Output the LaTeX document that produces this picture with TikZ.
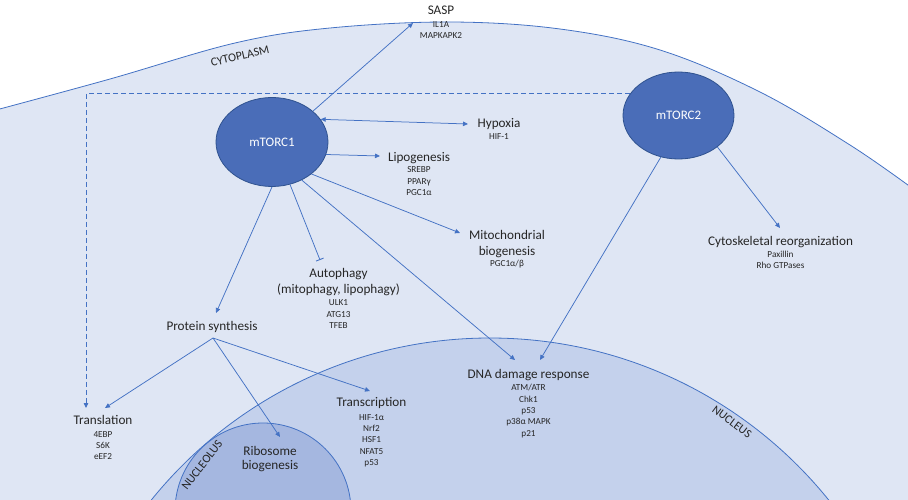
\documentclass[tikz,border=0pt]{standalone}
\usepackage{fontspec}
\setmainfont{Carlito}
\usetikzlibrary{arrows.meta,shapes.geometric}

\definecolor{cytofill}{HTML}{DFE6F4}
\definecolor{nucfill}{HTML}{C4D1EC}
\definecolor{nucolfill}{HTML}{A5B7E0}
\definecolor{edge}{HTML}{4472C4}
\definecolor{mtorfill}{HTML}{4A6DB8}
\definecolor{mtorline}{HTML}{2F528F}
\definecolor{ink}{HTML}{262626}

% multi-line nodes are placed by the baseline of their last line
\tikzset{
  membrane/.style={draw=edge, line width=0.8pt},
  conn/.style={draw=edge, line width=0.75pt, -{Triangle[length=5pt,width=4.5pt]}},
  biconn/.style={draw=edge, line width=0.75pt, {Triangle[length=5pt,width=4.5pt]}-{Triangle[length=5pt,width=4.5pt]}},
  inhib/.style={draw=edge, line width=0.75pt, -{Bar[width=8pt,line width=0.9pt]}},
  dashconn/.style={conn, dash pattern=on 5pt off 3pt},
  complex/.style={ellipse, fill=mtorfill, draw=mtorline, line width=0.8pt, inner sep=0pt,
    text=white, font=\fontsize{13}{15}\selectfont},
  head/.style={text=ink, font=\fontsize{13.2}{16}\selectfont, align=center, inner sep=0pt, anchor=base},
  genes/.style={text=ink, font=\fontsize{9.2}{11.4}\selectfont, align=center, inner sep=0pt, anchor=base},
  region/.style={text=ink, font=\fontsize{12}{14}\selectfont, inner sep=0pt}
}

\begin{document}
\begin{tikzpicture}[x=1pt,y=-1pt]
\useasboundingbox (0,0) rectangle (908,500);

% compartments
\begin{scope}
  \clip (0,0) rectangle (908,500);
  \fill[cytofill] plot[smooth,tension=0.6] coordinates
    {(-4,110) (110,79) (235,43) (330,28) (450,22) (560,29) (660,50) (760,92) (850,145) (912,188)}
    -- (915,510) -- (-6,510) -- cycle;
  \draw[membrane] plot[smooth,tension=0.6] coordinates
    {(-4,110) (110,79) (235,43) (330,28) (450,22) (560,29) (660,50) (760,92) (850,145) (912,188)};
  \filldraw[fill=nucfill, membrane] (490,773) circle[radius=435pt];
  \filldraw[fill=nucolfill, membrane] (263,511) circle[radius=88pt];
\end{scope}

% compartment names
\node[region, rotate=13] (cyto) at (240,56) {CYTOPLASM};
\node[region, rotate=-37] (nucl) at (732,422) {NUCLEUS};
\node[region, rotate=52] (nucleo) at (202,465) {NUCLEOLUS};

% mTOR complexes
\node[complex, minimum width=112pt, minimum height=89pt] (m1) at (272,142) {mTORC1};
\node[complex, minimum width=111pt, minimum height=87pt] (m2) at (678.5,115.5) {mTORC2};

% processes and their effectors
\node[head] (sasp) at (441,15) {SASP};
\node[genes] (saspg) at (441,38.7) {IL1A\\MAPKAPK2};

\node[head] (hyp) at (499,127.7) {Hypoxia};
\node[genes] (hypg) at (499,139.3) {HIF-1};

\node[head] (lipo) at (419,161) {Lipogenesis};
\node[genes] (lipog) at (419,195.5) {SREBP\\PPARγ\\PGC1α};

\node[head] (mito) at (507,255) {Mitochondrial\\biogenesis};
\node[genes] (mitog) at (507,266) {PGC1α/β};

\node[head] (auto) at (338.5,293.3) {Autophagy\\(mitophagy, lipophagy)};
\node[genes] (autog) at (338.5,328.5) {ULK1\\ATG13\\TFEB};

\node[head] (cyto2) at (780.5,245.7) {Cytoskeletal reorganization};
\node[genes] (cyto2g) at (780.5,268.7) {Paxillin\\Rho GTPases};

\node[head] (prot) at (212,330) {Protein synthesis};

\node[head] (trl) at (103,424) {Translation};
\node[genes] (trlg) at (103,459.8) {4EBP\\S6K\\eEF2};

\node[head] (trc) at (371.5,406) {Transcription};
\node[genes] (trcg) at (371.5,465.6) {HIF-1α\\Nrf2\\HSF1\\NFAT5\\p53};

\node[head] (dna) at (528.5,378.3) {DNA damage response};
\node[genes] (dnag) at (528.5,436.3) {ATM/ATR\\Chk1\\p53\\p38α MAPK\\p21};

\node[head, font=\fontsize{13.2}{14.5}\selectfont] (ribo) at (270,469.5) {Ribosome\\biogenesis};

% arrow end points
\coordinate (saspin) at (413,23);
\coordinate (hypin) at (468,124);
\coordinate (lipoin) at (380,156);
\coordinate (mitoin) at (460,233);
\coordinate (autoin) at (320,260);
\coordinate (protin) at (216,313);
\coordinate (dnain1) at (515,360);
\coordinate (dnain2) at (540,360);
\coordinate (cytoin) at (780,228);
\coordinate (trlin1) at (86,408);
\coordinate (trlin2) at (105,408);
\coordinate (riboin) at (280,437);
\coordinate (trcin) at (370,391);
\coordinate (psfork) at (213,338);

% mTORC1 outputs
\draw[conn] (m1.37) -- (saspin);
\draw[biconn] (m1.25) -- (hypin);
\draw[conn] (m1.-13) -- (lipoin);
\draw[conn] (m1.-39) -- (mitoin);
\draw[inhib] (m1.-67) -- (autoin);
\draw[conn] (m1.-52) -- (dnain1);
\draw[conn] (m1.-90) -- (protin);

% mTORC2 outputs
\draw[conn] (m2.-113.5) -- (dnain2);
\draw[conn] (m2.-39.5) -- (cytoin);
\draw[dashconn] (m2.156) -| (trlin1);

% protein synthesis branches
\draw[conn] (psfork) -- (trlin2);
\draw[conn] (psfork) -- (riboin);
\draw[conn] (psfork) -- (trcin);
\end{tikzpicture}
\end{document}
